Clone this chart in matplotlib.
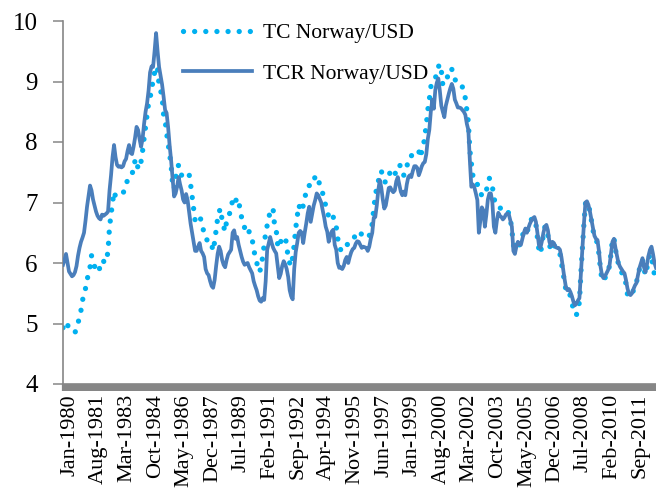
import matplotlib
matplotlib.use("Agg")
import matplotlib.pyplot as plt
import matplotlib.transforms as mtransforms
import numpy as np

# Monthly data, Jan-1980 .. Dec-2012 (one row per year)
tc_norway_usd = [
    4.93, 4.98, 5.03, 4.98, 4.92, 4.90, 4.88, 4.86, 4.85, 4.92, 5.00, 5.12,
    5.22, 5.38, 5.50, 5.58, 5.70, 5.85, 5.93, 6.12, 6.05, 5.95, 5.85, 5.86,
    5.88, 5.97, 6.05, 6.03, 6.00, 6.05, 6.20, 6.60, 6.80, 7.00, 7.18, 7.10,
    7.10, 7.11, 7.12, 7.13, 7.15, 7.22, 7.32, 7.36, 7.40, 7.42, 7.44, 7.64,
    7.68, 7.72, 7.55, 7.58, 7.68, 7.85, 8.06, 8.25, 8.45, 8.64, 8.72, 8.89,
    9.00, 9.15, 9.25, 9.20, 8.94, 8.85, 8.75, 8.45, 8.36, 8.15, 7.98, 7.80,
    7.62, 7.30, 7.22, 7.40, 7.55, 7.62, 7.55, 7.45, 7.42, 7.42, 7.42, 7.45,
    7.47, 7.30, 7.10, 6.90, 6.70, 6.72, 6.76, 6.78, 6.70, 6.63, 6.45, 6.40,
    6.38, 6.39, 6.38, 6.30, 6.20, 6.35, 6.54, 6.74, 6.85, 6.90, 6.70, 6.60,
    6.52, 6.70, 6.78, 6.82, 6.87, 7.07, 7.10, 7.05, 7.00, 7.04, 6.86, 6.75,
    6.67, 6.58, 6.50, 6.47, 6.52, 6.45, 6.40, 6.22, 6.12, 6.02, 5.88, 5.85,
    5.95, 6.10, 6.30, 6.50, 6.62, 6.70, 6.90, 6.90, 6.88, 6.60, 6.55, 6.30,
    6.25, 6.35, 6.41, 6.43, 6.43, 6.30, 6.07, 6.00, 5.95, 6.10, 6.30, 6.57,
    6.76, 6.96, 6.90, 6.85, 6.95, 7.05, 7.20, 7.27, 7.28, 7.28, 7.28, 7.38,
    7.42, 7.45, 7.37, 7.30, 7.22, 7.15, 7.04, 6.95, 6.85, 6.77, 6.70, 6.74,
    6.76, 6.68, 6.60, 6.41, 6.25, 6.22, 6.23, 6.28, 6.33, 6.31, 6.30, 6.33,
    6.36, 6.38, 6.42, 6.48, 6.52, 6.52, 6.50, 6.47, 6.45, 6.43, 6.42, 6.41,
    6.45, 6.54, 6.65, 6.90, 7.10, 7.25, 7.34, 7.49, 7.52, 7.45, 7.34, 7.34,
    7.34, 7.42, 7.52, 7.50, 7.45, 7.45, 7.55, 7.62, 7.62, 7.60, 7.59, 7.45,
    7.50, 7.57, 7.74, 7.76, 7.77, 7.80, 7.82, 7.85, 7.87, 7.85, 7.74, 7.85,
    7.92, 8.10, 8.28, 8.53, 8.70, 8.91, 9.00, 9.03, 9.05, 9.15, 9.24, 9.29,
    9.18, 8.94, 8.98, 9.02, 9.07, 9.15, 9.22, 9.20, 9.16, 9.05, 8.97, 8.93,
    8.92, 8.92, 8.91, 8.85, 8.72, 8.53, 8.33, 7.87, 7.65, 7.45, 7.44, 7.42,
    7.30, 7.26, 7.15, 7.12, 7.20, 7.22, 7.20, 7.30, 7.40, 7.35, 7.26, 7.10,
    6.96, 6.95, 6.94, 6.92, 6.88, 6.86, 6.84, 6.84, 6.86, 6.82, 6.72, 6.55,
    6.30, 6.20, 6.38, 6.35, 6.30, 6.33, 6.45, 6.52, 6.50, 6.48, 6.60, 6.68,
    6.72, 6.74, 6.74, 6.64, 6.42, 6.22, 6.15, 6.30, 6.48, 6.60, 6.60, 6.45,
    6.30, 6.22, 6.30, 6.30, 6.25, 6.20, 6.20, 6.15, 6.00, 5.85, 5.70, 5.55,
    5.50, 5.52, 5.45, 5.35, 5.22, 5.15, 5.14, 5.25, 5.35, 5.85, 6.25, 6.65,
    6.98, 7.02, 6.96, 6.85, 6.70, 6.55, 6.42, 6.38, 6.33, 6.15, 5.90, 5.72,
    5.70, 5.75, 5.80, 5.86, 5.95, 6.15, 6.40, 6.42, 6.22, 6.10, 5.98, 5.90,
    5.85, 5.80, 5.78, 5.65, 5.48, 5.44, 5.45, 5.48, 5.55, 5.62, 5.68, 5.80,
    5.90, 6.00, 6.05, 5.90, 5.80, 5.92, 6.05, 6.15, 6.10, 5.95, 5.80, 5.75,
]

tcr_norway_usd = [
    5.97, 6.05, 6.15, 6.00, 5.86, 5.82, 5.78, 5.80, 5.85, 5.95, 6.12, 6.25,
    6.35, 6.42, 6.50, 6.70, 6.93, 7.10, 7.28, 7.20, 7.05, 6.95, 6.85, 6.78,
    6.74, 6.72, 6.80, 6.78, 6.80, 6.82, 6.85, 7.20, 7.45, 7.75, 7.95, 7.75,
    7.62, 7.59, 7.60, 7.58, 7.60, 7.68, 7.72, 7.85, 7.95, 7.82, 7.80, 7.92,
    8.07, 8.25, 8.20, 8.05, 7.92, 8.05, 8.30, 8.50, 8.64, 8.85, 9.15, 9.25,
    9.24, 9.50, 9.80, 9.50, 9.24, 9.10, 8.95, 8.75, 8.53, 8.48, 8.25, 7.95,
    7.70, 7.40, 7.10, 7.15, 7.26, 7.42, 7.30, 7.20, 7.05, 7.00, 7.14, 7.04,
    6.85, 6.65, 6.50, 6.35, 6.20, 6.20, 6.27, 6.33, 6.20, 6.16, 6.10, 5.90,
    5.83, 5.80, 5.70, 5.62, 5.59, 5.72, 5.95, 6.15, 6.27, 6.20, 6.05, 5.97,
    5.93, 6.05, 6.14, 6.18, 6.22, 6.50, 6.54, 6.40, 6.43, 6.30, 6.20, 6.10,
    6.02, 5.97, 5.99, 6.00, 5.93, 5.88, 5.83, 5.70, 5.62, 5.55, 5.45, 5.38,
    5.36, 5.42, 5.39, 5.70, 6.22, 6.32, 6.43, 6.33, 6.25, 6.20, 6.16, 5.95,
    5.75, 5.82, 5.95, 6.03, 5.98, 5.90, 5.77, 5.55, 5.45, 5.40, 5.90, 6.18,
    6.33, 6.50, 6.53, 6.50, 6.33, 6.50, 6.65, 6.82, 6.93, 6.68, 6.82, 6.95,
    7.04, 7.15, 7.12, 7.06, 7.00, 6.87, 6.75, 6.60, 6.52, 6.35, 6.45, 6.52,
    6.55, 6.30, 6.22, 6.00, 5.92, 5.93, 5.90, 5.95, 6.05, 6.10, 6.00, 6.10,
    6.18, 6.23, 6.25, 6.32, 6.36, 6.35, 6.30, 6.25, 6.27, 6.26, 6.25, 6.20,
    6.27, 6.40, 6.50, 6.75, 6.76, 6.95, 7.20, 7.37, 7.25, 7.05, 6.90, 6.95,
    7.10, 7.24, 7.25, 7.20, 7.17, 7.20, 7.35, 7.42, 7.30, 7.18, 7.12, 7.18,
    7.12, 7.30, 7.42, 7.45, 7.42, 7.52, 7.60, 7.60, 7.57, 7.45, 7.52, 7.60,
    7.65, 7.67, 7.80, 8.05, 8.20, 8.50, 8.70, 8.55, 8.86, 8.98, 9.05, 8.85,
    8.60, 8.50, 8.41, 8.60, 8.70, 8.80, 8.89, 8.96, 8.88, 8.70, 8.64, 8.57,
    8.57, 8.56, 8.53, 8.50, 8.45, 8.30, 8.20, 7.70, 7.26, 7.30, 7.25, 7.15,
    7.04, 6.50, 6.70, 6.92, 6.87, 6.60, 6.80, 7.05, 7.15, 7.15, 7.00, 6.60,
    6.50, 6.70, 6.83, 6.78, 6.76, 6.72, 6.75, 6.80, 6.82, 6.80, 6.70, 6.60,
    6.20, 6.15, 6.27, 6.35, 6.32, 6.30, 6.40, 6.50, 6.57, 6.50, 6.58, 6.65,
    6.70, 6.74, 6.76, 6.68, 6.50, 6.30, 6.25, 6.36, 6.50, 6.60, 6.63, 6.54,
    6.35, 6.28, 6.35, 6.33, 6.27, 6.25, 6.25, 6.22, 6.10, 5.92, 5.75, 5.60,
    5.55, 5.57, 5.52, 5.45, 5.36, 5.30, 5.33, 5.38, 5.42, 5.85, 6.25, 6.65,
    7.00, 7.02, 6.96, 6.85, 6.71, 6.58, 6.45, 6.40, 6.38, 6.20, 5.95, 5.80,
    5.75, 5.78, 5.83, 5.88, 5.95, 6.15, 6.35, 6.40, 6.25, 6.12, 6.00, 5.94,
    5.90, 5.86, 5.83, 5.72, 5.58, 5.49, 5.47, 5.50, 5.57, 5.63, 5.67, 5.80,
    5.92, 6.00, 6.08, 5.93, 5.85, 5.98, 6.12, 6.22, 6.27, 6.15, 6.00, 5.92,
]

tick_labels = [
    "Jan-1980", "Aug-1981", "Mar-1983", "Oct-1984", "May-1986", "Dec-1987",
    "Jul-1989", "Feb-1991", "Sep-1992", "Apr-1994", "Nov-1995", "Jun-1997",
    "Jan-1999", "Aug-2000", "Mar-2002", "Oct-2003", "May-2005", "Dec-2006",
    "Jul-2008", "Feb-2010", "Sep-2011",
]
label_step = 19  # one label every 19 months

months = np.arange(len(tcr_norway_usd))
grey = "#868686"

plt.rcParams["font.family"] = ["Liberation Serif", "DejaVu Serif"]

fig = plt.figure(figsize=(6.56, 4.99), dpi=100)
ax = fig.add_axes([63 / 656, (499 - 384) / 499, 593 / 656, 363 / 499])

ax.plot(months, tc_norway_usd, color="#00B0F0", lw=3.8,
        linestyle=(0, (0.01, 2.1)), dash_capstyle="round",
        label="TC Norway/USD", zorder=2)
ax.plot(months, tcr_norway_usd, color="#4A7EBB", lw=2.7,
        solid_joinstyle="round", label="TCR Norway/USD", zorder=3)

ax.set_xlim(0, len(months) - 1)
ax.set_ylim(4, 10)
ax.set_yticks(range(4, 11))

ax.set_xticks(months[::label_step][:len(tick_labels)])
ax.set_xticklabels(tick_labels, rotation=90, fontsize=16)
ax.set_xticks(months, minor=True)
ax.tick_params(axis="x", which="both", direction="out", length=5.2,
               width=1.6, color=grey, pad=2)
ax.tick_params(axis="y", direction="out", length=7.2, width=1.1,
               color=grey, labelsize=18, pad=11)

# shift the rotated date labels a little to the right like the original
offset = mtransforms.ScaledTranslation(7 / 100, 0, fig.dpi_scale_trans)
for lab in ax.get_xticklabels():
    lab.set_transform(lab.get_transform() + offset)

for side in ["top", "right"]:
    ax.spines[side].set_visible(False)
for side in ["left", "bottom"]:
    ax.spines[side].set_color(grey)
    ax.spines[side].set_linewidth(1.2)
ax.set_facecolor("white")

ax.legend(loc="upper left", bbox_to_anchor=(183 / 656, (499 - 23) / 499),
          bbox_transform=fig.transFigure, frameon=False, fontsize=15.5,
          handlelength=3.2, handletextpad=0.5, labelspacing=0.95,
          borderpad=0, borderaxespad=0)

fig.savefig("out.png", dpi=100)
